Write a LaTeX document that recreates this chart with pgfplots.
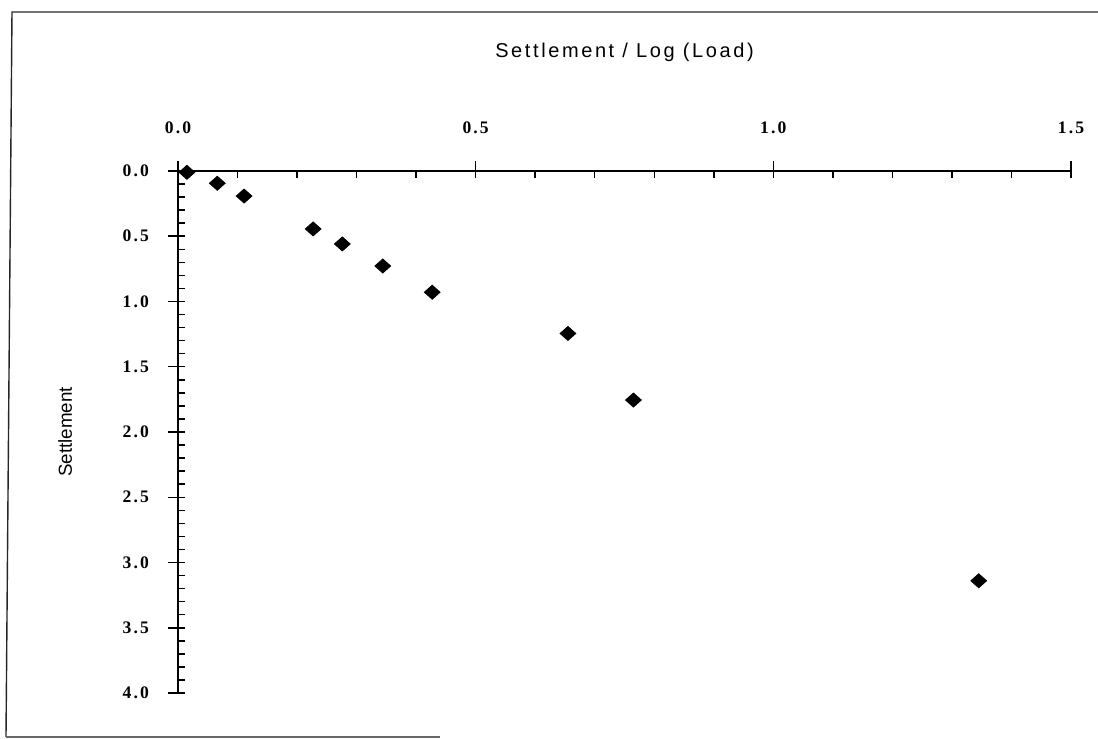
\documentclass[border=0pt]{standalone}
\usepackage{fontspec}
\setmainfont{Liberation Sans}
\newfontfamily\tickfont{Liberation Serif}[LetterSpace=12]
\newfontfamily\titlefont{Liberation Sans}[LetterSpace=13]
\usepackage{pgfplots}
\pgfplotsset{compat=1.18}
\begin{document}
\begin{tikzpicture}
\path[use as bounding box] (0,0) rectangle (549pt,369.5pt);
\draw[line width=0.7pt, black!85] (549pt,363.5pt) -- (6pt,363.5pt) -- (3pt,1pt);
\draw[line width=0.7pt, black!60] (3pt,1pt) -- (220pt,1pt);
\begin{axis}[
  at={(89pt,284pt)}, anchor=north west,
  scale only axis, width=446.5pt, height=261pt,
  xmin=0, xmax=1.5, ymin=0, ymax=4, y dir=reverse,
  axis x line=top, axis y line=left,
  axis line style={line width=0.8pt, -},
  every tick/.style={black, line width=0.75pt},
  xtick={0,0.5,1,1.5}, ytick={0,0.5,...,4},
  minor x tick num=4, minor y tick num=4,
  tick align=inside,
  major tick length=8.5pt, minor tick length=3.5pt,
  every major x tick/.append style={yshift=5pt},
  every major y tick/.append style={xshift=-5pt},
  /pgf/number format/assume math mode=true,
  xticklabel={\pgfmathprintnumber[fixed,fixed zerofill,precision=1]{\tick}},
  yticklabel={\pgfmathprintnumber[fixed,fixed zerofill,precision=1]{\tick}},
  xticklabel style={font=\tickfont\bfseries\fontsize{8.8}{10}\selectfont, anchor=center, yshift=21.5pt},
  yticklabel style={font=\tickfont\bfseries\fontsize{8.8}{10}\selectfont, anchor=east, xshift=-11pt},
  title={Settlement / Log (Load)},
  title style={font=\titlefont\fontsize{10}{12}\selectfont, at={(axis description cs:0.5,1)}, anchor=center, yshift=53.5pt},
  ylabel={Settlement},
  ylabel style={font=\fontsize{9.4}{11}\selectfont, at={(axis description cs:-0.1265,0.5)}, anchor=center},
  clip=false,
]
\addplot[only marks, mark=diamond*, mark size=3.5pt, mark options={fill=black, draw=black, xscale=1.5}] coordinates {
(0.015,0.01)
(0.066,0.094)
(0.111,0.192)
(0.227,0.444)
(0.276,0.559)
(0.344,0.728)
(0.427,0.929)
(0.655,1.245)
(0.765,1.755)
(1.345,3.14)
};
\end{axis}
\end{tikzpicture}
\end{document}
